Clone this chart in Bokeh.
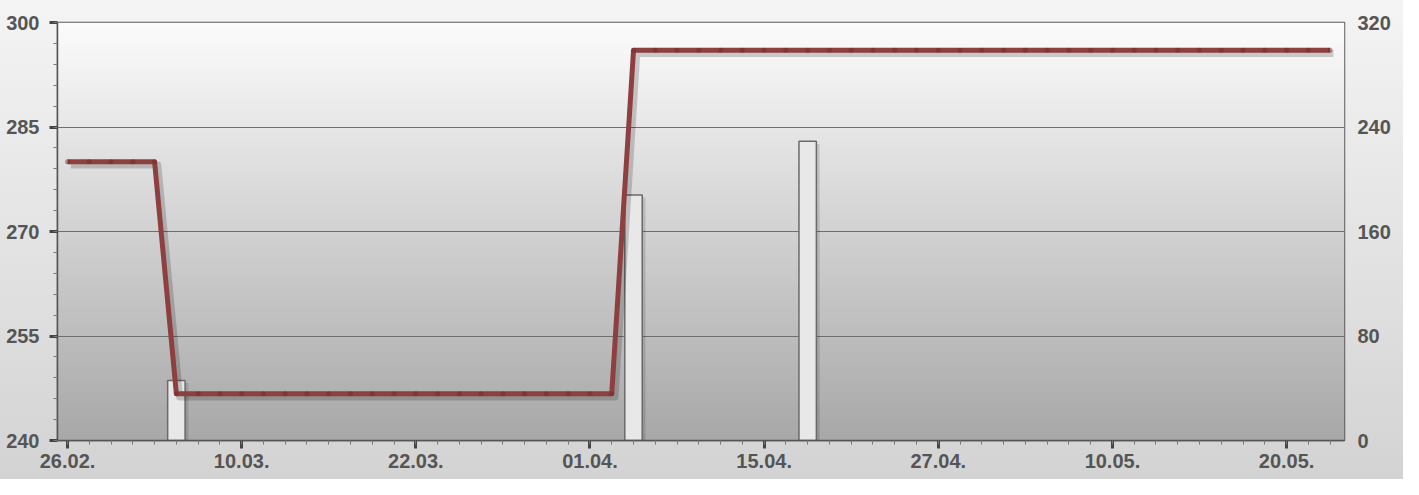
import numpy as np
from bokeh.plotting import figure
from bokeh.models import Range1d, LinearAxis, FixedTicker
from bokeh.embed import file_html
from bokeh.resources import INLINE

# ---------------- data ----------------
tick_days = [0, 8, 16, 24, 32, 40, 48, 56]
tick_labels = ["26.02.", "10.03.", "22.03.", "01.04.", "15.04.", "27.04.", "10.05.", "20.05."]
days = list(range(0, 59))

price = [280, 280, 280, 280, 280,
         246.7, 246.7, 246.7, 246.7, 246.7, 246.7, 246.7, 246.7, 246.7, 246.7,
         246.7, 246.7, 246.7, 246.7, 246.7, 246.7, 246.7, 246.7, 246.7, 246.7, 246.7,
         296, 296, 296, 296, 296, 296, 296, 296, 296, 296, 296, 296, 296, 296, 296,
         296, 296, 296, 296, 296, 296, 296, 296, 296, 296, 296, 296, 296, 296, 296,
         296, 296, 296]

volume_days = [5, 26, 34]
volume_values = [46, 188, 229]

left_ticks = [240, 255, 270, 285, 300]
left_minor = [v for v in range(240, 301, 3)]
right_ticks = [0, 80, 160, 240, 320]

# ---------------- figure ----------------
X0, X1 = -0.46, 58.66
p = figure(width=1403, height=479, output_backend="svg", toolbar_location=None,
           x_range=Range1d(X0, X1), y_range=Range1d(240, 300),
           min_border_left=57, min_border_right=59, min_border_top=22, min_border_bottom=39)
p.border_fill_color = None
p.styles = {"background": "linear-gradient(#f4f4f4, #d3d3d3)"}
p.outline_line_color = "#5a5a5a"
p.outline_line_width = 1.5

# shifted ranges for drop shadows (about 3px right/down)
p.extra_x_ranges = {"xsh": Range1d(X0 - 0.15, X1 - 0.15)}
p.extra_y_ranges = {"vol": Range1d(0, 320), "ysh": Range1d(240.45, 300.45),
                    "volsh": Range1d(2.0, 322.0)}

# plot-area background gradient
n = 200
g = np.linspace(168, 252, n).astype(np.uint32)
img = np.zeros((n, 1), dtype=np.uint32)
view = img.view(dtype=np.uint8).reshape((n, 1, 4))
view[:, 0, 0] = g
view[:, 0, 1] = g
view[:, 0, 2] = g
view[:, 0, 3] = 255
p.image_rgba(image=[img], x=X0, y=240, dw=X1 - X0, dh=60, level="image")

# grid
p.xgrid.grid_line_color = None
p.ygrid.ticker = FixedTicker(ticks=left_ticks)
p.ygrid.grid_line_color = "#6e6e6e"
p.ygrid.grid_line_width = 1.2

# volume bars (right axis) with shadows
p.vbar(x=volume_days, top=volume_values, width=0.8, bottom=0,
       x_range_name="xsh", y_range_name="volsh",
       fill_color="black", fill_alpha=0.13, line_color=None)
p.vbar(x=volume_days, top=volume_values, width=0.8, bottom=0, y_range_name="vol",
       fill_color="#e8e8e8", line_color="#6a6a6a", line_width=1.5)

# price line with shadow
p.line(days, price, x_range_name="xsh", y_range_name="ysh",
       line_color="black", line_alpha=0.18, line_width=7, line_join="round")
p.line(days, price, line_color="#8e3f3f", line_width=5, line_join="round")
p.scatter(days, price, marker="circle", size=5, fill_color="#6e2828",
          fill_alpha=0.45, line_color=None)

FONT = "Liberation Sans"

def style_axis(ax):
    ax.major_label_text_font = FONT
    ax.major_label_text_font_size = "20px"
    ax.major_label_text_font_style = "bold"
    ax.major_label_text_color = "#555555"
    ax.axis_line_color = "#555555"
    ax.axis_line_width = 1.5

# left axis
ly = p.yaxis[0]
ly.ticker = FixedTicker(ticks=left_ticks, minor_ticks=left_minor)
style_axis(ly)
ly.major_tick_out = 8
ly.major_tick_in = 0
ly.major_tick_line_width = 3
ly.major_tick_line_color = "#444444"
ly.minor_tick_out = 4
ly.minor_tick_in = 0
ly.minor_tick_line_color = "#777777"
ly.major_label_standoff = 10

# bottom axis
bx = p.xaxis[0]
bx.ticker = FixedTicker(ticks=tick_days, minor_ticks=days)
bx.major_label_overrides = {d: t for d, t in zip(tick_days, tick_labels)}
style_axis(bx)
bx.major_tick_out = 8
bx.major_tick_in = 0
bx.major_tick_line_width = 3
bx.major_tick_line_color = "#444444"
bx.minor_tick_out = 4
bx.minor_tick_in = 0
bx.minor_tick_line_color = "#777777"
bx.major_label_standoff = 5

# right axis
ry = LinearAxis(y_range_name="vol", ticker=FixedTicker(ticks=right_ticks, minor_ticks=[]))
style_axis(ry)
ry.axis_line_color = None
ry.major_tick_line_color = None
ry.minor_tick_line_color = None
ry.major_tick_out = 0
ry.major_tick_in = 0
ry.major_label_standoff = 13
p.add_layout(ry, "right")

open("out.html", "w").write(file_html(p, INLINE))
